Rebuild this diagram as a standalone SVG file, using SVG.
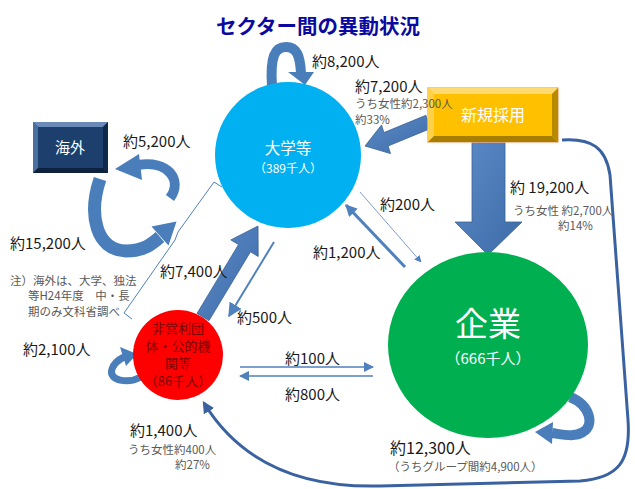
<svg xmlns="http://www.w3.org/2000/svg" width="635" height="489" viewBox="0 0 635 489">
<defs>
<style>
text{font-family:"Noto Sans CJK JP","Noto Sans",sans-serif}
.lbl{font-size:15px;fill:#1a1a1a}
.sub{font-size:11.5px;fill:#595959}
.fat{fill:none;stroke:#4A7EBB;stroke-linecap:butt}
.thin{fill:none;stroke:#4F81BD}
.red{font-size:13px;fill:#7A0000;text-anchor:middle}
</style>
<marker id="ah" viewBox="0 0 10 10" refX="9" refY="5" markerWidth="4" markerHeight="4" orient="auto" markerUnits="strokeWidth"><path d="M0,0 L10,5 L0,10 z" fill="#4F81BD"/></marker>
<marker id="ahs" viewBox="0 0 10 10" refX="9" refY="5" markerWidth="7" markerHeight="7" orient="auto" markerUnits="strokeWidth"><path d="M0,0 L10,5 L0,10 z" fill="#4F81BD"/></marker>
<marker id="ahd" viewBox="0 0 10 10" refX="8" refY="5" markerWidth="4" markerHeight="4" orient="auto" markerUnits="strokeWidth"><path d="M0,0 L10,5 L0,10 z" fill="#3A62A0"/></marker>
<linearGradient id="blu" x1="0" y1="0" x2="1" y2="1"><stop offset="0" stop-color="#5B8BC8"/><stop offset="1" stop-color="#3D6BA8"/></linearGradient>
</defs>

<text x="318" y="34" text-anchor="middle" style="font-size:20.5px;font-weight:bold;fill:#0A0AA0">セクター間の異動状況</text>

<g id="connectors">
  <path class="thin" d="M562,140 C592,138 606,148 610,175 L628,420 C631,462 618,478 580,481 L380,486 C300,488 240,462 204,403" style="stroke:#3A62A0;stroke-width:3" marker-end="url(#ahd)"/>
  <polygon points="425.9,115.3 383.9,132.6 381.5,125 365,146 390.5,153.6 388.1,146 430.1,128.7" fill="url(#blu)" stroke="#3B6296" stroke-width="0.8"/>
  <polygon points="472,142 505,142 505,222 522,222 488,255 455,222 472,222" fill="url(#blu)" stroke="#3B6296" stroke-width="0.8"/>
  <polygon points="197,313.4 238.5,244.6 230.8,239.9 258,226 258.2,256.5 250.5,251.8 209,320.6" fill="url(#blu)" stroke="#3B6296" stroke-width="0.8"/>
  <line class="thin" x1="274" y1="242" x2="229" y2="316" stroke-width="2" marker-end="url(#ahs)"/>
  <line class="thin" x1="360" y1="192" x2="421" y2="262" stroke-width="1" style="stroke:#7F9DC8" marker-end="url(#ahs)"/>
  <line class="thin" x1="405" y1="267" x2="346" y2="205" stroke-width="3" marker-end="url(#ah)"/>
  <line class="thin" x1="240" y1="367" x2="373" y2="367" stroke-width="1.5" marker-end="url(#ahs)"/>
  <line class="thin" x1="373" y1="376" x2="240" y2="376" stroke-width="1.5" marker-end="url(#ahs)"/>
  <path class="fat" d="M272,86 C270,56 275,47 286,47 C297,47 300,56 301,73" stroke-width="10"/>
  <polygon points="288,72 314,72 305,85" fill="#4A7EBB"/>
  <path class="fat" d="M170,198 C183,180 168,160 138,165" stroke-width="10"/>
  <polygon points="139,154 115,169 142,180" fill="#4A7EBB"/>
  <path class="fat" d="M100,179 C88,215 96,250 126,251 C144,251 152,244 160,237" stroke-width="13"/>
  <polygon points="151.5,226.5 176.5,221.5 168.5,245.5" fill="#4A7EBB"/>
  <path class="fat" d="M570,397 C590,405 595,425 583,432 C575,437 566,435 552,433" stroke-width="10"/>
  <polygon points="553,422 535,432 552,444" fill="#4A7EBB"/>
  <path class="fat" d="M141,377 C128,384 108,381 112,369 C114,363 118,360 124,357" stroke-width="7"/>
  <polygon points="120,347 137,354 126,366" fill="#4A7EBB"/>
  <path d="M222,187 L214,182 L178,232 L175,240 L124,313 L132,319" fill="none" stroke="#4F81BD" stroke-width="1"/>
</g>

<g id="daigaku">
  <circle cx="288" cy="155" r="73" fill="#00B0F0"/>
  <text x="288" y="154" text-anchor="middle" style="font-size:15.5px;fill:#fff">大学等</text>
  <text x="288" y="173" text-anchor="middle" style="font-size:12px;fill:#fff">（389千人）</text>
</g>

<g id="kigyo">
  <ellipse cx="488" cy="345" rx="100" ry="93" fill="#00B050"/>
  <text x="488" y="336" text-anchor="middle" style="font-size:33px;fill:#fff">企業</text>
  <text x="488" y="364" text-anchor="middle" style="font-size:15px;fill:#fff">（666千人）</text>
</g>

<g id="hieiri">
  <circle cx="178" cy="355" r="45" fill="#FF0000"/>
  <text class="red" x="178" y="333">非営利団</text>
  <text class="red" x="178" y="350.5">体・公的機</text>
  <text class="red" x="178" y="368">関等</text>
  <text class="red" x="178" y="386">（86千人）</text>
</g>

<g id="kaigai">
  <rect x="33" y="122" width="75" height="51" fill="#1C3F6E"/>
  <polygon points="33,122 108,122 103,127 38,127" fill="#6A8BB8"/>
  <polygon points="33,122 38,127 38,168 33,173" fill="#4A6E9E"/>
  <polygon points="108,122 108,173 103,168 103,127" fill="#10284A"/>
  <polygon points="33,173 108,173 103,168 38,168" fill="#0E2240"/>
  <text x="70" y="153" text-anchor="middle" style="font-size:15px;fill:#fff">海外</text>
</g>

<g id="shinki">
  <rect x="428" y="88" width="130" height="54" fill="#FFC000" stroke="#F4B183" stroke-width="1.5"/>
  <polygon points="428,88 558,88 552,94 434,94" fill="#FFDA70"/>
  <polygon points="428,88 434,94 434,136 428,142" fill="#FFD04A"/>
  <polygon points="558,88 558,142 552,136 552,94" fill="#B88A00"/>
  <polygon points="428,142 558,142 552,136 434,136" fill="#A87E00"/>
  <text x="493" y="121" text-anchor="middle" style="font-size:16px;fill:#fff">新規採用</text>
</g>

<g id="labels">
  <text class="lbl" x="312" y="67">約8,200人</text>
  <text class="lbl" x="355" y="92">約7,200人</text>
  <text class="sub" x="355" y="108">うち女性約2,300人</text>
  <text class="sub" x="355" y="124">約33%</text>
  <text class="lbl" x="123" y="147">約5,200人</text>
  <text class="lbl" x="10" y="249">約15,200人</text>
  <text class="sub" x="10" y="284.5">注）海外は、大学、独法</text>
  <text class="sub" x="28" y="300">等H24年度　中・長</text>
  <text class="sub" x="28" y="315.5">期のみ文科省調べ</text>
  <text class="lbl" x="510" y="193">約 19,200人</text>
  <text class="sub" x="513" y="215">うち女性 約2,700人</text>
  <text class="sub" x="558" y="230">約14%</text>
  <text class="lbl" x="380" y="210">約200人</text>
  <text class="lbl" x="313" y="258">約1,200人</text>
  <text class="lbl" x="160" y="277">約7,400人</text>
  <text class="lbl" x="237" y="323">約500人</text>
  <text class="lbl" x="23" y="355">約2,100人</text>
  <text class="lbl" x="285" y="364">約100人</text>
  <text class="lbl" x="285" y="400">約800人</text>
  <text class="lbl" x="130" y="436">約1,400人</text>
  <text class="sub" x="128" y="454">うち女性約400人</text>
  <text class="sub" x="175" y="469">約27%</text>
  <text class="lbl" x="390" y="454" style="font-size:16px">約12,300人</text>
  <text class="sub" x="388" y="471">（うちグループ間約4,900人）</text>
</g>
</svg>
